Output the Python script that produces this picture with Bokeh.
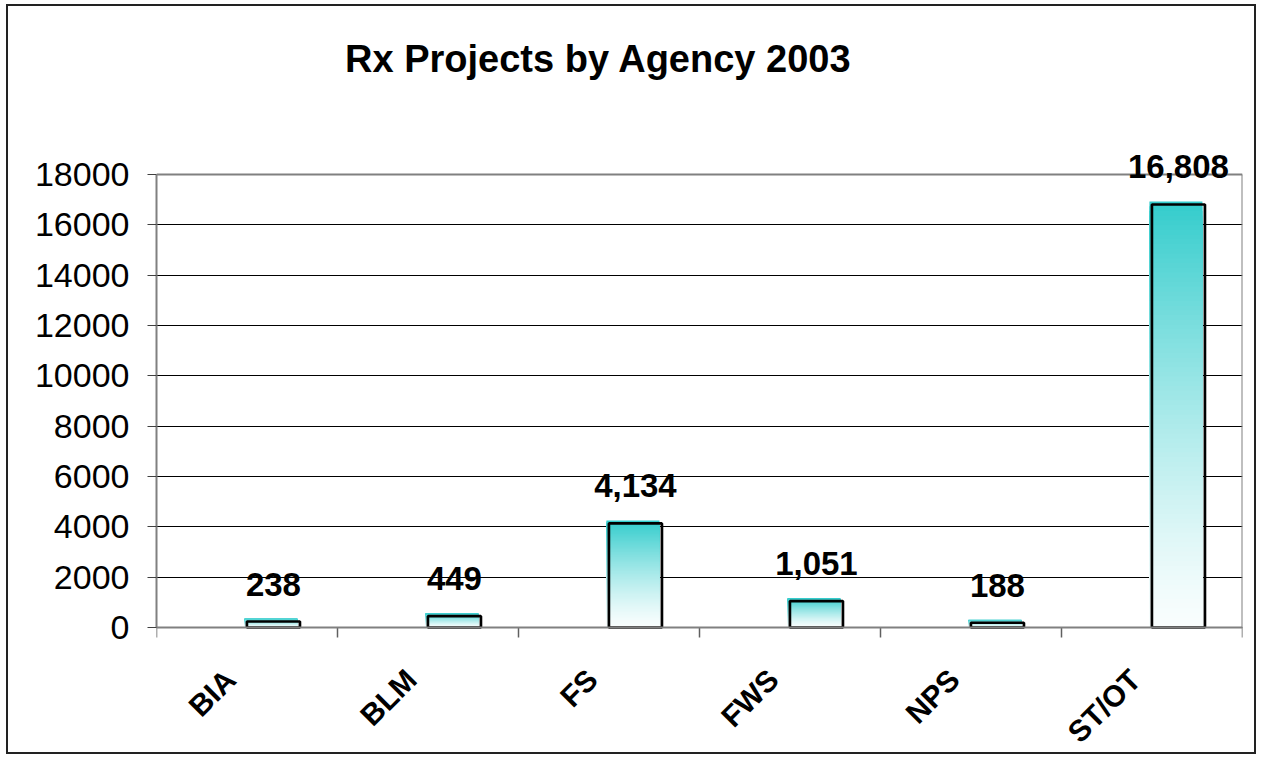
import numpy as np
from bokeh.plotting import figure
from bokeh.models import ColumnDataSource, FixedTicker, Range1d, LabelSet, Label
from bokeh.core.properties import value
from bokeh.embed import file_html
from bokeh.resources import INLINE

# ---------------- data ----------------
agencies = ["BIA", "BLM", "FS", "FWS", "NPS", "ST/OT"]
projects = [238, 449, 4134, 1051, 188, 16808]
y_ticks = [0, 2000, 4000, 6000, 8000, 10000, 12000, 14000, 16000, 18000]
title_text = "Rx Projects by Agency 2003"

# ---------------- style / layout ----------------
FONT = "Liberation Sans"
W, H = 1250, 750
FRAME_L, FRAME_R = 148, 16
Y_TOP_PX, Y_ZERO_PX = 168, 621         # canvas y of the 18000 and 0 lines
y_max = y_ticks[-1]
n = len(agencies)
frame_w = W - FRAME_L - FRAME_R
slot_px = frame_w / n
px_y = y_max / (Y_ZERO_PX - Y_TOP_PX)  # data units per pixel (y)
px_x = n / frame_w                     # data units per pixel (x)
y_top = y_max + Y_TOP_PX * px_y
y_bottom = -(H - Y_ZERO_PX) * px_y

BAR_POS = 0.646                 # bar center inside each category slot
BAR_W = 0.293                   # bar width as a fraction of a slot
LABEL_POS = 0.408               # category label anchor inside each slot
TEAL = (51, 204, 204)

p = figure(width=W, height=H, output_backend="svg", toolbar_location=None,
           x_range=Range1d(0, n), y_range=Range1d(y_bottom, y_top),
           min_border_left=FRAME_L, min_border_right=FRAME_R,
           min_border_top=0, min_border_bottom=0)
p.styles = {"border": "2px solid #222222", "margin-left": "6px",
            "margin-top": "4px"}
p.background_fill_color = "white"
p.border_fill_color = "white"
p.outline_line_color = None
p.xaxis.visible = False

# ---------------- grid ----------------
p.xgrid.visible = False
p.ygrid.ticker = FixedTicker(ticks=y_ticks[:-1])
p.ygrid.grid_line_color = "black"
p.ygrid.grid_line_width = 1

# plot-area border (top and right), gray
p.segment(x0=[0, n], y0=[y_max, 0], x1=[n, n], y1=[y_max, y_max],
          line_color="#808080", line_width=2)

# ---------------- gradient bars ----------------
centers = [i + BAR_POS for i in range(n)]
N_SLICES = 90
l, r, t, c = [], [], [], []
for xc, v in zip(centers, projects):
    top = v + 3 * px_y
    for k in range(N_SLICES - 1, -1, -1):
        f = (k + 0.5) / N_SLICES
        w = 0.03 + 0.97 * f ** 1.3
        col = tuple(int(round(255 * (1 - w) + ch * w)) for ch in TEAL)
        l.append(xc - BAR_W / 2 - 2.5 * px_x)
        r.append(xc + BAR_W / 2 - 2.5 * px_x)
        t.append(top * (k + 1) / N_SLICES)
        c.append("#%02x%02x%02x" % col)
grad = ColumnDataSource(dict(left=l, right=r, top=t, color=c))
p.quad(left="left", right="right", bottom=0, top="top", source=grad,
       fill_color="color", line_color=None)

bars = ColumnDataSource(dict(
    x=centers, top=projects,
    label=[f"{v:,}" for v in projects]))
p.vbar(x="x", top="top", bottom=0, width=BAR_W, source=bars,
       fill_color=None, line_color="black", line_width=2.7)

labels = LabelSet(x="x", y="top", text="label", source=bars,
                  text_align="center", text_baseline="alphabetic",
                  y_offset=26, text_font=value(FONT),
                  text_font_style="bold",
                  text_font_size="33px", text_color="black")
p.add_layout(labels)

# ---------------- category axis (drawn inside the frame) ----------------
bounds = list(range(n + 1))
p.segment(x0=bounds, y0=[0] * len(bounds), x1=bounds,
          y1=[-10 * px_y] * len(bounds), line_color="#606060", line_width=1.5)
p.segment(x0=[0], y0=[0], x1=[n], y1=[0], line_color="#808080", line_width=2)

cats = ColumnDataSource(dict(x=[i + LABEL_POS for i in range(n)],
                             y=[0] * n, name=agencies))
p.text(x="x", y="y", text="name", source=cats, angle=np.pi / 4,
       text_align="right", text_baseline="middle", y_offset=47,
       text_font=value(FONT), text_font_style="bold",
       text_font_size="30px", text_color="black")

# ---------------- value axis ----------------
yax = p.yaxis[0]
yax.ticker = FixedTicker(ticks=y_ticks)
yax.bounds = (0, y_max)
yax.axis_line_color = "#808080"
yax.axis_line_width = 2
yax.major_tick_out = 9
yax.major_tick_in = 0
yax.major_tick_line_color = "#404040"
yax.major_tick_line_width = 1
yax.minor_tick_line_color = None
yax.major_label_standoff = 18
yax.major_label_text_font = FONT
yax.major_label_text_font_size = "34px"
yax.major_label_text_color = "black"

# ---------------- title ----------------
title = Label(x=(590 - FRAME_L) / slot_px,
              y=y_max + (Y_TOP_PX - 52) * px_y,
              text=title_text, text_align="center", text_baseline="middle",
              text_font=FONT, text_font_style="bold",
              text_font_size="38px", text_color="black")
p.add_layout(title)

open("out.html", "w").write(file_html(p, INLINE))
